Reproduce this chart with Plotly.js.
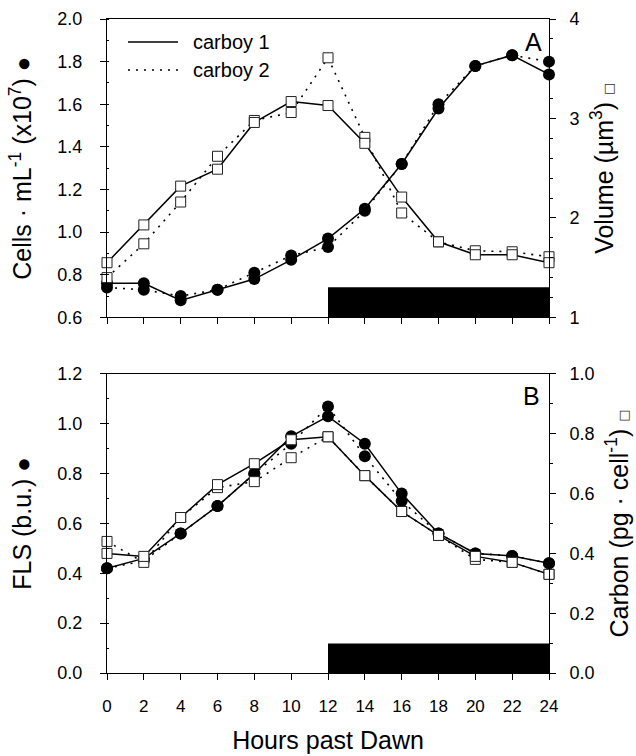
<!DOCTYPE html>
<html>
<head>
<meta charset="utf-8">
<script src="https://cdn.plot.ly/plotly-3.0.1.min.js"></script>
<style>html,body{margin:0;padding:0;background:#fff;}</style>
</head>
<body>
<div id="chart" style="width:636px;height:756px;"></div>
<script>
// Hours past dawn
const hours = [0, 2, 4, 6, 8, 10, 12, 14, 16, 18, 20, 22, 24];

// Panel A: cell abundance (x10^7 cells/mL), left axis
const cellsC1 = [0.76, 0.76, 0.68, 0.73, 0.78, 0.87, 0.97, 1.11, 1.32, 1.58, 1.78, 1.83, 1.74];
const cellsC2 = [0.74, 0.73, 0.70, 0.73, 0.81, 0.89, 0.93, 1.10, 1.32, 1.60, 1.78, 1.83, 1.80];
// Panel A: cell volume (um^3), right axis
const volC1 = [1.55, 1.93, 2.32, 2.49, 2.96, 3.17, 3.13, 2.75, 2.21, 1.76, 1.63, 1.63, 1.55];
const volC2 = [1.40, 1.74, 2.16, 2.62, 2.98, 3.06, 3.61, 2.81, 2.05, 1.76, 1.67, 1.66, 1.61];

// Panel B: forward light scatter (b.u.), left axis
const flsC1 = [0.42, 0.46, 0.56, 0.67, 0.80, 0.95, 1.03, 0.92, 0.72, 0.56, 0.48, 0.47, 0.44];
const flsC2 = [0.42, 0.45, 0.56, 0.67, 0.80, 0.92, 1.07, 0.87, 0.69, 0.56, 0.48, 0.47, 0.44];
// Panel B: carbon (pg/cell), right axis
const carbonC1 = [0.40, 0.39, 0.52, 0.63, 0.70, 0.78, 0.79, 0.66, 0.54, 0.46, 0.39, 0.37, 0.33];
const carbonC2 = [0.44, 0.37, 0.52, 0.62, 0.64, 0.72, 0.79, 0.66, 0.54, 0.46, 0.38, 0.37, 0.33];

// Dark period (hours)
const darkStart = 12, darkEnd = 24;
const darkTopA = 0.742, darkTopB = 0.118;

const legendNames = ["carboy 1", "carboy 2"];

const FONT = "Liberation Sans, Arial, sans-serif";
const solid = {color: "#000", width: 1.5, dash: "solid"};
const dotted = {color: "#000", width: 1.6, dash: "2px,6px"};
const circ = {symbol: "circle", size: 12, color: "#000", line: {width: 0}};
const sqFill = {symbol: "square", size: 10, color: "#fff", line: {width: 1, color: "#222"}};

function tr(x, y, xa, ya, line, marker) {
  return {x: x, y: y, xaxis: xa, yaxis: ya, type: "scatter", mode: "lines+markers",
          line: line, marker: marker, showlegend: false, cliponaxis: false};
}

const data = [
  tr(hours, cellsC2, "x", "y", dotted, circ),
  tr(hours, cellsC1, "x", "y", solid, circ),
  tr(hours, volC2, "x", "y2", dotted, sqFill),
  tr(hours, volC1, "x", "y2", solid, sqFill),
  tr(hours, flsC2, "x2", "y3", dotted, circ),
  tr(hours, flsC1, "x2", "y3", solid, circ),
  tr(hours, carbonC2, "x2", "y4", dotted, sqFill),
  tr(hours, carbonC1, "x2", "y4", solid, sqFill)
];

const tickFont = {family: FONT, size: 18, color: "#000"};
const titleFont = {family: FONT, size: 25, color: "#000"};

function xax(anchor, labels) {
  return {anchor: anchor, domain: [0, 1], range: [darkStart - 12, darkEnd], dtick: 2, tick0: 0,
          ticks: "outside", ticklen: 6, tickcolor: "#000", showline: true, linecolor: "#000",
          linewidth: 1, mirror: true, showgrid: false, zeroline: false,
          showticklabels: labels, tickfont: {family: FONT, size: 17, color: "#000"},
          ticklabelstandoff: 12};
}
function yleft(domain, anchor, range, title) {
  return {domain: domain, anchor: anchor, range: range, dtick: 0.2, tickformat: ".1f",
          ticks: "outside", ticklen: 6, tickcolor: "#000", showline: true, linecolor: "#000",
          linewidth: 1, showgrid: false, zeroline: false, tickfont: tickFont,
          ticklabelstandoff: 14,
          minor: {dtick: 0.1, ticks: "inside", ticklen: 2, tickcolor: "#000"},
          title: {text: title, font: titleFont, standoff: 18}};
}
function yright(over, anchor, range, dtick, fmt, minorD, title) {
  return {overlaying: over, anchor: anchor, side: "right", range: range, dtick: dtick, tickformat: fmt,
          ticks: "outside", ticklen: 6, tickcolor: "#000", showline: true, linecolor: "#000",
          linewidth: 1, showgrid: false, zeroline: false, tickfont: tickFont,
          ticklabelstandoff: 10,
          minor: {dtick: minorD, ticks: "outside", ticklen: 3, tickcolor: "#000"},
          title: {text: title, font: titleFont, standoff: 16}};
}

const domA = [0.5437, 1], domB = [0, 0.4572];
const sqSym = "<span style=\"font-family:DejaVu Sans;font-size:13px;fill:#333\">□</span>";
const dotSym = "<span style=\"font-size:24px\">●</span>";

const layout = {
  width: 636, height: 756,
  margin: {l: 107, r: 87, t: 19, b: 83},
  paper_bgcolor: "#fff", plot_bgcolor: "#fff",
  showlegend: false,
  xaxis: xax("y", false),
  xaxis2: Object.assign(xax("y3", true), {title: {text: "Hours past Dawn", font: titleFont, standoff: 16}}),
  yaxis: yleft(domA, "x", [0.6, 2.0], "Cells · mL<sup>-1</sup> (x10<sup>7</sup>) " + dotSym),
  yaxis2: yright("y", "x", [1, 4], 1, "d", 0.2, "Volume (µm<sup>3</sup>) " + sqSym),
  yaxis3: yleft(domB, "x2", [0, 1.2], "FLS (b.u.) " + dotSym),
  yaxis4: yright("y3", "x2", [0, 1.0], 0.2, ".1f", 0.1, "Carbon (pg · cell<sup>-1</sup>) " + sqSym),
  shapes: [
    {type: "rect", xref: "x", yref: "y", x0: darkStart, x1: darkEnd, y0: 0.6, y1: darkTopA,
     fillcolor: "#000", line: {width: 0}, layer: "above"},
    {type: "rect", xref: "x2", yref: "y3", x0: darkStart, x1: darkEnd, y0: 0, y1: darkTopB,
     fillcolor: "#000", line: {width: 0}, layer: "above"},
    {type: "line", xref: "x domain", yref: "y domain", x0: 0.0475, x1: 0.1606, y0: 0.923, y1: 0.923,
     line: {color: "#000", width: 1.5}},
    {type: "line", xref: "x domain", yref: "y domain", x0: 0.0475, x1: 0.1606, y0: 0.829, y1: 0.829,
     line: {color: "#000", width: 1.6, dash: "2px,6px"}}
  ],
  annotations: [
    {xref: "x domain", yref: "y domain", x: 0.19, y: 0.923, xanchor: "left", yanchor: "middle",
     text: legendNames[0], showarrow: false, font: {family: FONT, size: 20, color: "#000"}},
    {xref: "x domain", yref: "y domain", x: 0.19, y: 0.829, xanchor: "left", yanchor: "middle",
     text: legendNames[1], showarrow: false, font: {family: FONT, size: 20, color: "#000"}},
    {xref: "x domain", yref: "y domain", x: 0.964, y: 0.923, xanchor: "center", yanchor: "middle",
     text: "A", showarrow: false, font: {family: FONT, size: 25, color: "#000"}},
    {xref: "x2 domain", yref: "y3 domain", x: 0.96, y: 0.925, xanchor: "center", yanchor: "middle",
     text: "B", showarrow: false, font: {family: FONT, size: 25, color: "#000"}}
  ]
};

Plotly.newPlot("chart", data, layout, {staticPlot: true, displayModeBar: false});
</script>
</body>
</html>
